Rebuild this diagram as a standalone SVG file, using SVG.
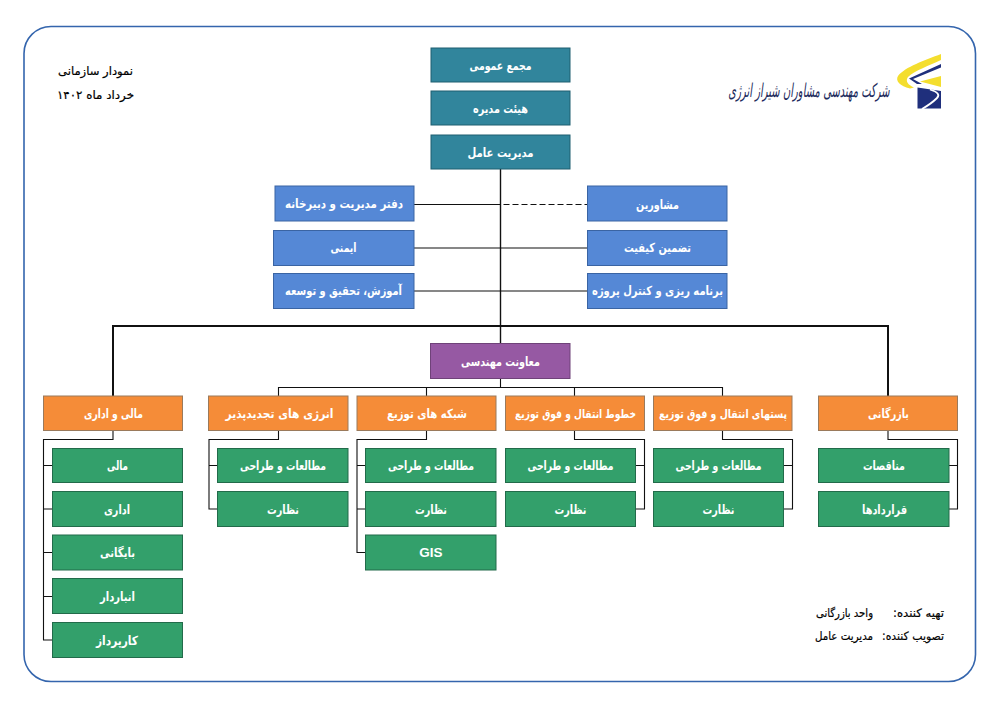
<svg xmlns="http://www.w3.org/2000/svg" width="1000" height="707" viewBox="0 0 1000 707">
<style>
.box{stroke-width:1}
.teal{fill:#31859c;stroke:#1f5f70}
.blue{fill:#5588d6;stroke:#3a64a3}
.purple{fill:#9659a3;stroke:#6f4279}
.orange{fill:#f58c38;stroke:#9a7a5c}
.green{fill:#33a06b;stroke:#226b4a}
.lbl{font-family:"DejaVu Sans","Noto Sans",sans-serif;font-size:12.500px;font-weight:700;fill:#fff;text-anchor:middle;direction:rtl}
.sm{font-size:11.500px}
.note{font-family:"DejaVu Sans","Noto Sans",sans-serif;font-size:11.500px;fill:#000;direction:rtl;stroke:#000;stroke-width:.2}
.ln{fill:none;stroke:#111;stroke-width:1.100}
</style>
<rect x="0" y="0" width="1000" height="707" fill="#fff"/>
<rect id="frame" x="24" y="26.500" width="951.500" height="655" rx="27" fill="none" stroke="#3465ad" stroke-width="1.600"/>
<g id="connectors">
<path class="ln" style="stroke-width:1.400" d="M500.500 169V343"/>
<path class="ln" d="M414 204.500H500.500M414 248H587M414 291H587"/>
<path class="ln" stroke-dasharray="6 3" d="M503.500 204.500H587"/>
<path class="ln" style="stroke-width:2" d="M113 396V326H888V396"/>
<path class="ln" d="M500.500 379V387.500M278.500 396V387.500H722.500V396M426.500 387.500V396M574.500 387.500V396"/>
<path class="ln" d="M113 431V439.500H43.500V640H52M43.500 465.500H52M43.500 509H52M43.500 552.500H52M43.500 596.500H52"/>
<path class="ln" d="M278.500 431V439.500H209V509H217M209 465.500H217"/>
<path class="ln" d="M426.500 431V439.500H357V552.500H365M357 465.500H365M357 509H365"/>
<path class="ln" d="M574.500 431V439.500H644.500V509H636M644.500 465.500H636"/>
<path class="ln" d="M722.500 431V439.500H792.500V509H784M792.500 465.500H784"/>
<path class="ln" d="M888 431V439.500H957.500V509H949M957.500 465.500H949"/>
</g>
<g id="n-majma"><rect class="box teal" x="431" y="48" width="139" height="34"/><text class="lbl" x="500.500" y="70" textLength="62" lengthAdjust="spacingAndGlyphs">مجمع عمومی</text></g>
<g id="n-hayat"><rect class="box teal" x="431" y="91" width="139" height="34"/><text class="lbl" x="500.500" y="113" textLength="55" lengthAdjust="spacingAndGlyphs">هیئت مدیره</text></g>
<g id="n-modir"><rect class="box teal" x="431" y="135" width="139" height="34"/><text class="lbl" x="500.500" y="157" textLength="66" lengthAdjust="spacingAndGlyphs">مدیریت عامل</text></g>
<g id="n-daftar"><rect class="box blue" x="275" y="186" width="139" height="35"/><text class="lbl" x="344" y="208" textLength="118" lengthAdjust="spacingAndGlyphs">دفتر مدیریت و دبیرخانه</text></g>
<g id="n-imeni"><rect class="box blue" x="273.500" y="230.500" width="140.500" height="35"/><text class="lbl" x="343.500" y="252" textLength="26" lengthAdjust="spacingAndGlyphs">ایمنی</text></g>
<g id="n-amoozesh"><rect class="box blue" x="273.500" y="273.500" width="140.500" height="35"/><text class="lbl" x="343.500" y="295" textLength="117" lengthAdjust="spacingAndGlyphs">آموزش، تحقیق و توسعه</text></g>
<g id="n-moshaverin"><rect class="box blue" x="587.500" y="186" width="139.500" height="35"/><text class="lbl" x="657.500" y="209" textLength="43" lengthAdjust="spacingAndGlyphs">مشاورین</text></g>
<g id="n-tazmin"><rect class="box blue" x="587.500" y="230.500" width="139.500" height="35"/><text class="lbl" x="657.500" y="252" textLength="67" lengthAdjust="spacingAndGlyphs">تضمین کیفیت</text></g>
<g id="n-barname"><rect class="box blue" x="587.500" y="273.500" width="139.500" height="35"/><text class="lbl" x="657.500" y="295" textLength="131" lengthAdjust="spacingAndGlyphs">برنامه ریزی و کنترل پروژه</text></g>
<g id="n-moavenat"><rect class="box purple" x="430.500" y="343.500" width="139.500" height="35"/><text class="lbl" x="500.500" y="366" textLength="79" lengthAdjust="spacingAndGlyphs">معاونت مهندسی</text></g>
<g id="n-mali-edari"><rect class="box orange" x="43.500" y="396" width="139" height="34.500"/><text class="lbl" x="113.500" y="418" textLength="59" lengthAdjust="spacingAndGlyphs">مالی و اداری</text></g>
<g id="n-energy"><rect class="box orange" x="208.500" y="396" width="139.500" height="34.500"/><text class="lbl" x="279.500" y="418" textLength="108" lengthAdjust="spacingAndGlyphs">انرژی های تجدیدپذیر</text></g>
<g id="n-shabake"><rect class="box orange" x="357" y="396" width="139" height="34.500"/><text class="lbl" x="427" y="418" textLength="80" lengthAdjust="spacingAndGlyphs">شبکه های توزیع</text></g>
<g id="n-khotoot"><rect class="box orange" x="505.500" y="396" width="139" height="34.500"/><text class="lbl sm" x="575.500" y="418" textLength="121" lengthAdjust="spacingAndGlyphs">خطوط انتقال و فوق توزیع</text></g>
<g id="n-postha"><rect class="box orange" x="653.500" y="396" width="138.500" height="34.500"/><text class="lbl sm" x="723" y="418" textLength="128" lengthAdjust="spacingAndGlyphs">پستهای انتقال و فوق توزیع</text></g>
<g id="n-bazargani"><rect class="box orange" x="818.500" y="396" width="139" height="34.500"/><text class="lbl" x="888.500" y="418" textLength="41" lengthAdjust="spacingAndGlyphs">بازرگانی</text></g>
<g id="n-mali"><rect class="box green" x="52.500" y="448.500" width="130" height="34"/><text class="lbl" x="117.500" y="470" textLength="21" lengthAdjust="spacingAndGlyphs">مالی</text></g>
<g id="n-edari"><rect class="box green" x="52.500" y="491.500" width="130" height="35"/><text class="lbl" x="117" y="514" textLength="26" lengthAdjust="spacingAndGlyphs">اداری</text></g>
<g id="n-bayegani"><rect class="box green" x="52.500" y="535" width="130" height="35"/><text class="lbl" x="117.500" y="557" textLength="35" lengthAdjust="spacingAndGlyphs">بایگانی</text></g>
<g id="n-anbardar"><rect class="box green" x="52.500" y="578.500" width="130" height="35"/><text class="lbl" x="117.500" y="601" textLength="35" lengthAdjust="spacingAndGlyphs">انباردار</text></g>
<g id="n-karpardaz"><rect class="box green" x="52.500" y="622.500" width="130" height="35"/><text class="lbl" x="117" y="645" textLength="42" lengthAdjust="spacingAndGlyphs">کارپرداز</text></g>
<g id="n-e1"><rect class="box green" x="217.500" y="448.500" width="130.500" height="34"/><text class="lbl" x="283" y="470" textLength="86" lengthAdjust="spacingAndGlyphs">مطالعات و طراحی</text></g>
<g id="n-e2"><rect class="box green" x="217.500" y="491.500" width="130.500" height="35"/><text class="lbl" x="283" y="514" textLength="32" lengthAdjust="spacingAndGlyphs">نظارت</text></g>
<g id="n-s1"><rect class="box green" x="365.500" y="448.500" width="130.500" height="34"/><text class="lbl" x="431" y="470" textLength="86" lengthAdjust="spacingAndGlyphs">مطالعات و طراحی</text></g>
<g id="n-s2"><rect class="box green" x="365.500" y="491.500" width="130.500" height="35"/><text class="lbl" x="431" y="514" textLength="32" lengthAdjust="spacingAndGlyphs">نظارت</text></g>
<g id="n-s3"><rect class="box green" x="365.500" y="535" width="130.500" height="35"/><text class="lbl" x="431" y="557" style="font-size:13.500px;font-family:'Liberation Sans',sans-serif">GIS</text></g>
<g id="n-k1"><rect class="box green" x="505.500" y="448.500" width="130" height="34"/><text class="lbl" x="570.500" y="470" textLength="86" lengthAdjust="spacingAndGlyphs">مطالعات و طراحی</text></g>
<g id="n-k2"><rect class="box green" x="505.500" y="491.500" width="130" height="35"/><text class="lbl" x="570.500" y="514" textLength="32" lengthAdjust="spacingAndGlyphs">نظارت</text></g>
<g id="n-p1"><rect class="box green" x="653.500" y="448.500" width="130" height="34"/><text class="lbl" x="718.500" y="470" textLength="86" lengthAdjust="spacingAndGlyphs">مطالعات و طراحی</text></g>
<g id="n-p2"><rect class="box green" x="653.500" y="491.500" width="130" height="35"/><text class="lbl" x="718.500" y="514" textLength="32" lengthAdjust="spacingAndGlyphs">نظارت</text></g>
<g id="n-b1"><rect class="box green" x="818.500" y="448.500" width="130.500" height="34"/><text class="lbl" x="884" y="470" textLength="42" lengthAdjust="spacingAndGlyphs">مناقصات</text></g>
<g id="n-b2"><rect class="box green" x="818.500" y="491.500" width="130.500" height="35"/><text class="lbl" x="884.500" y="514" textLength="45" lengthAdjust="spacingAndGlyphs">قراردادها</text></g>
<g id="notes">
<text class="note" x="133" y="75" textLength="75" lengthAdjust="spacingAndGlyphs">نمودار سازمانی</text>
<text class="note" x="134" y="99" textLength="77" lengthAdjust="spacingAndGlyphs">خرداد ماه ۱۴۰۲</text>
<text class="note" x="944" y="617" textLength="51" lengthAdjust="spacingAndGlyphs">تهیه کننده:</text>
<text class="note" x="873" y="617" textLength="57" lengthAdjust="spacingAndGlyphs">واحد بازرگانی</text>
<text class="note" x="944" y="640" textLength="62" lengthAdjust="spacingAndGlyphs">تصویب کننده:</text>
<text class="note" x="873" y="640" textLength="58" lengthAdjust="spacingAndGlyphs">مدیریت عامل</text>
</g>
<g id="logo">
<path fill="#f4de2e" d="M941 54C925 60 905 67 898 76C895 81 900 86 910 88.500L914 87.500C908 85 905 81 908 77C914 71 930 65 941 60Z"/>
<path fill="#1f2f7c" d="M941 64L909 78.500L917 84L922 84L913 79L941 67.500Z"/>
<path fill="#f4de2e" d="M941 76L920 81.500L941 87Z"/>
<path fill="#1f2f7c" d="M917.500 87.500L941 91V108.500H917.500Z"/>
<path fill="none" stroke="#fff" stroke-width="1.800" d="M930 89.500C938 92 940 95 937 98C933 102 929 105 922 109"/>
<text transform="translate(809 97) scale(1 1.900)" font-family="'DejaVu Sans',sans-serif" font-size="10" font-style="italic" fill="#1d2b5c" text-anchor="middle" style="direction:rtl">شرکت مهندسی مشاوران شیراز انرژی</text>
</g>
</svg>
